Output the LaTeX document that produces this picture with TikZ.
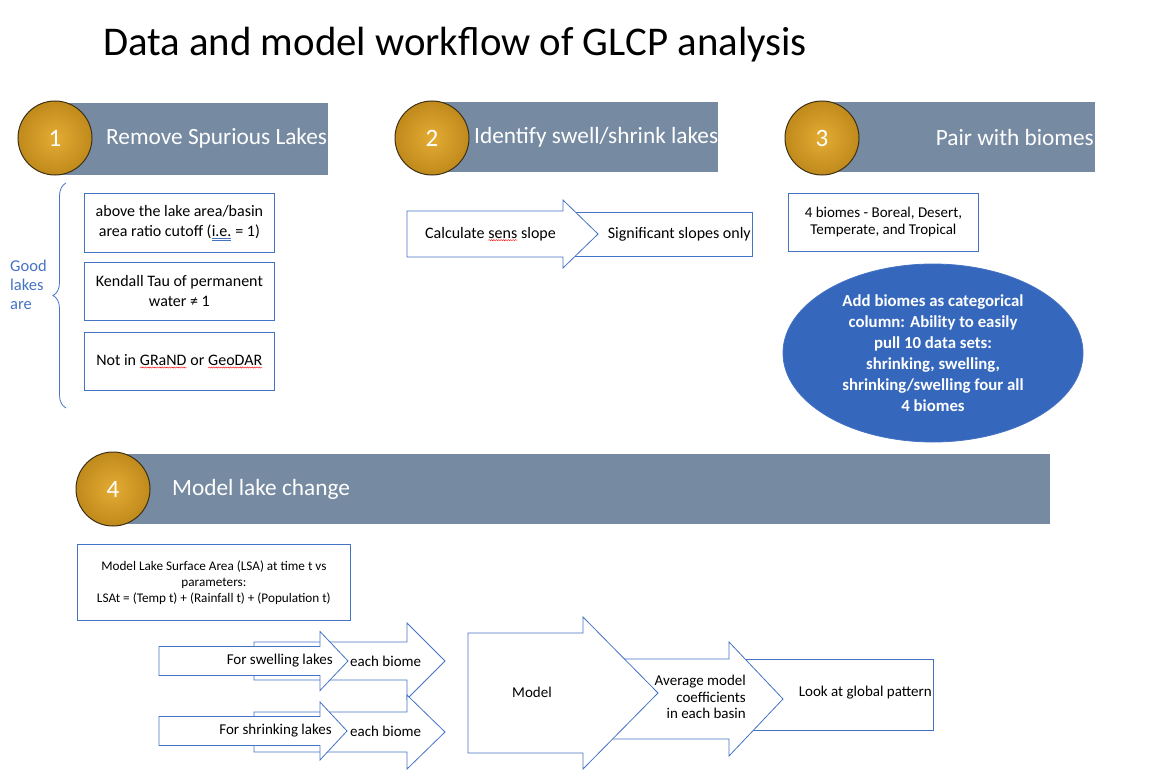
\documentclass[tikz,border=0pt]{standalone}
\usepackage{fontspec}
\setmainfont{Carlito}
\usetikzlibrary{shapes.geometric,decorations.pathreplacing,decorations.pathmorphing}
\definecolor{barblue}{RGB}{118,138,162}
\definecolor{boxblue}{RGB}{68,114,196}
\definecolor{ovalblue}{RGB}{53,103,188}
\definecolor{ballgold}{RGB}{192,138,28}
\definecolor{balllight}{RGB}{228,172,52}
\definecolor{ballrim}{RGB}{60,48,22}
\tikzset{marknode/.style={inner sep=0pt, outer sep=0pt, minimum width=0pt, minimum height=0pt,
  draw=none, fill=none, anchor=base, align=left}}
\newcommand{\spellmark}[1]{\tikz[baseline=(w.base)]{\node[marknode] (w) {#1};
  \draw[red, line width=0.4pt, decorate, decoration={snake, amplitude=0.6pt, segment length=2.4pt}]
    ([yshift=-2pt]w.base west) -- ([yshift=-2pt]w.base east);}}
\newcommand{\grammark}[1]{\tikz[baseline=(w.base)]{\node[marknode] (w) {#1};
  \draw[boxblue, line width=0.4pt] ([yshift=-2pt]w.base west) -- ([yshift=-2pt]w.base east)
    ([yshift=-3.4pt]w.base west) -- ([yshift=-3.4pt]w.base east);}}
\newcommand{\fs}[2]{\fontsize{#1}{#2}\selectfont}
% fat block arrow: left x, neck x, tip x, middle y, body half height, head half height
\newcommand{\fatarrow}[6]{%
  \draw[arrowline] (#1,{#4-#5}) -- (#2,{#4-#5}) -- (#2,{#4-#6}) -- (#3,#4)
    -- (#2,{#4+#6}) -- (#2,{#4+#5}) -- (#1,{#4+#5}) -- cycle;}
\tikzset{
  headbar/.style={fill=barblue, draw=none, anchor=north west, inner sep=0pt},
  numball/.style={circle, minimum size=74pt, inner sep=0pt, draw=ballrim, line width=1pt,
    inner color=balllight, outer color=ballgold, text=white, font=\fs{25}{28}},
  headtext/.style={text=white, font=\fs{23.3}{27}, inner sep=0pt},
  lakebox/.style={draw=boxblue, line width=0.8pt, fill=white, align=center,
    anchor=north west, inner sep=2pt},
  arrowtext/.style={font=\fs{15}{16.5}, inner sep=0pt},
  arrowline/.style={draw=boxblue, line width=0.8pt, fill=white, line join=miter}
}
\begin{document}
\begin{tikzpicture}[x=1pt,y=-1pt]
\useasboundingbox (0,0) rectangle (1151,784);
\node[anchor=west, inner sep=0pt, font=\fs{40.8}{44}] (title) at (103,45) {Data and model workflow of GLCP analysis};

% step 1
\node[headbar, minimum width=273pt, minimum height=72pt] (bar1) at (55,103) {};
\node[numball] (ball1) at (55,138) {1};
\node[headtext, anchor=west] (head1) at (106,138) {Remove Spurious Lakes};
\node[lakebox, minimum width=190pt, minimum height=59pt, font=\fs{16}{20}] (good1) at (84,193)
  {above the lake area/basin\\area ratio cutoff (\grammark{i.e.} = 1)};
\node[lakebox, minimum width=190pt, minimum height=58pt, font=\fs{16}{20}] (good2) at (84,262)
  {Kendall Tau of permanent\\water ≠ 1};
\node[lakebox, minimum width=190pt, minimum height=58pt, font=\fs{16}{20}] (good3) at (84,332)
  {Not in \spellmark{GRaND} or \spellmark{GeoDAR}};
\draw[boxblue, line width=0.8pt, decorate, decoration={brace, amplitude=13pt}]
  (66,408) -- (66,183) coordinate[midway] (bracetip);
\node[anchor=west, align=left, text=boxblue, font=\fs{16.5}{19}, inner sep=0pt] (goodlakes) at (10,285)
  {Good\\lakes\\are};

% step 2
\node[headbar, minimum width=288pt, minimum height=70pt] (bar2) at (430,102) {};
\node[numball] (ball2) at (432,138) {2};
\node[headtext, anchor=west] (head2) at (474,137) {Identify swell/shrink lakes};
\node[lakebox, minimum width=189pt, minimum height=44pt] (signif) at (563,212) {};
\fatarrow{407}{563}{598}{234}{23}{34}
\node[arrowtext, font=\fs{16}{18}, anchor=west] (sens) at (425,234) {Calculate \spellmark{sens} slope};
\node[arrowtext, font=\fs{16}{18}, anchor=east] (signiftext) at (751,234) {Significant slopes only};

% step 3
\node[headbar, minimum width=275pt, minimum height=70pt] (bar3) at (820,102) {};
\node[numball] (ball3) at (822,138) {3};
\node[headtext, anchor=east] (head3) at (1094,137) {Pair with biomes};
\node[lakebox, minimum width=190pt, minimum height=58pt, font=\fs{15}{17}] (biomes) at (788,193)
  {4 biomes - Boreal, Desert,\\Temperate, and Tropical};
\node[ellipse, fill=ovalblue, draw=boxblue, line width=0.8pt, minimum width=300pt, minimum height=178pt,
  inner sep=0pt, align=center, text=white, font=\bfseries\fs{16.8}{21}] (categ) at (933,353)
  {Add biomes as categorical\\column: Ability to easily\\pull 10 data sets:\\shrinking, swelling,\\shrinking/swelling four all\\4 biomes};

% step 4
\node[headbar, minimum width=940pt, minimum height=70pt] (bar4) at (110,454) {};
\node[numball] (ball4) at (113,489) {4};
\node[headtext, anchor=west] (head4) at (172,489) {Model lake change};
\node[lakebox, minimum width=273pt, minimum height=76pt, font=\fs{13.2}{16}] (lsa) at (77,544)
  {Model Lake Surface Area (LSA) at time t vs\\parameters:\\LSAt = (Temp t) + (Rainfall t) + (Population t)};

\fatarrow{254}{407}{445}{661}{19}{38}
\fatarrow{159}{320}{348}{661}{14.5}{29.5}
\fatarrow{254}{407}{445}{732}{20}{37}
\fatarrow{159}{320}{347}{731}{14.5}{29}
\node[arrowtext, anchor=east] (swell) at (333,661) {For swelling lakes};
\node[arrowtext, anchor=west] (swellbiome) at (350,661) {each biome};
\node[arrowtext, anchor=east] (shrink) at (332,731) {For shrinking lakes};
\node[arrowtext, anchor=west] (shrinkbiome) at (350,731) {each biome};

\node[lakebox, minimum width=193pt, minimum height=71pt] (global) at (740,659) {};
\fatarrow{600}{729}{783}{699}{40}{57}
\fatarrow{468}{583}{658}{693}{60}{76}
\node[arrowtext] (model) at (532,692) {Model};
\node[arrowtext, align=right, anchor=east] (average) at (746,697) {Average model\\coefficients\\in each basin};
\node[arrowtext, anchor=east] (globaltext) at (932,693) {Look at global pattern};
\end{tikzpicture}
\end{document}
